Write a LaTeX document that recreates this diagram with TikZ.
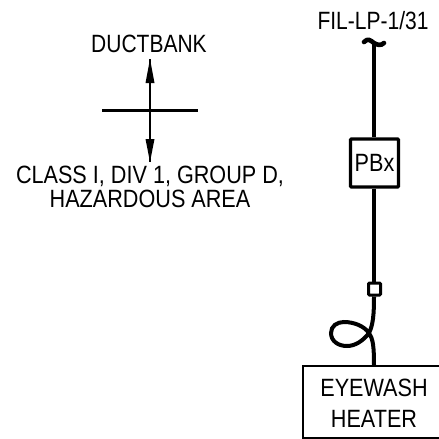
\documentclass[tikz,border=0pt]{standalone}
\usepackage{fontspec}
\setmainfont{Liberation Sans}
\tikzset{
 lblbase/.style={inner sep=0pt,font=\fontsize{25}{24.5}\selectfont,align=center,text=black},
 lbl/.style={lblbase,xscale=0.84},
 lblw/.style={lblbase,xscale=0.865},
 wire/.style={line width=4.6pt,black},
 thinline/.style={line width=2.2pt,black},
 tip/.style={fill=black,draw=none}
}
\begin{document}
\begin{tikzpicture}[x=1pt,y=-1pt]
\useasboundingbox (0,0) rectangle (439,439);
\clip (0,0) rectangle (439,439);
\node[lbl] (title) at (373,21) {FIL-LP-1/31};
\node[lbl] (duct) at (149,44) {DUCTBANK};
\node[lblw] (cls) at (150,187) {CLASS I, DIV 1, GROUP D,\\HAZARDOUS AREA};
\coordinate (ctop) at (374,44);
\draw[wire,line cap=round] (364,42) .. controls (368,38) and (370,40) .. (374,43) .. controls (377,45) and (381,46) .. (384,43);
\node[draw=black,line width=3.2pt,minimum width=48pt,minimum height=48pt,inner sep=0pt,rounded corners=1pt] (pb) at (374.5,163) {};
\node[lblw] (pbt) at (pb.center) {PBx};
\node[draw=black,line width=3pt,minimum size=12pt,inner sep=0pt,rounded corners=1pt] (sq) at (374.5,289) {};
\draw[wire] (ctop) -- (pb.north -| ctop);
\draw[wire] (pb.south -| ctop) -- (sq.north -| ctop);
\coordinate (hb) at (374,366);
\draw[wire,line width=4pt] (sq.south -| ctop) .. controls (374,315) and (373,325) .. (369,333)
 .. controls (363,341) and (355,346) .. (347,346) .. controls (338,346) and (331,341) .. (331,333)
 .. controls (331,326) and (337,322) .. (344,322) .. controls (354,322) and (364,326) .. (369,333)
 .. controls (373,339) and (374,346) .. (hb);
\coordinate (b1) at (445,366);
\coordinate (b2) at (303,366);
\coordinate (b3) at (303,438);
\coordinate (b4) at (445,438);
\draw[thinline] (b1) -- (b2) -- (b3) -- (b4);
\node[lblw] (e1) at (374,388) {EYEWASH};
\node[lblw] (e2) at (374,419) {HEATER};
\coordinate (n) at (150,59);
\coordinate (s) at (150,162);
\coordinate (w) at (102,110.5);
\coordinate (e) at (198,110.5);
\draw[thinline] (w) -- (e);
\draw[thinline] (n) -- (s);
\fill[tip] (n) -- (154.5,83) -- (145.5,83) -- cycle;
\fill[tip] (s) -- (154.5,139) -- (145.5,139) -- cycle;
\end{tikzpicture}
\end{document}
